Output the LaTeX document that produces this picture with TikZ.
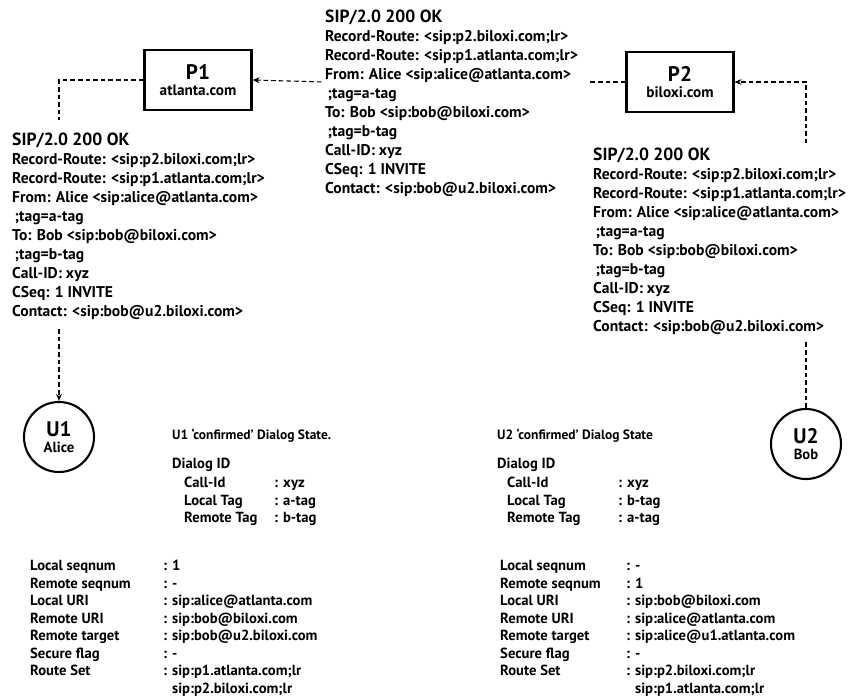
\documentclass[tikz,border=0pt]{standalone}
\usepackage{fontspec}
\setmainfont{PT Sans}
\usetikzlibrary{arrows.meta}

\tikzset{
  proxy/.style={draw, line width=2pt, minimum width=3.2cm, minimum height=1.8cm, align=center, inner sep=2pt, font=\bfseries},
  agent/.style={draw, circle, line width=1.8pt, minimum size=2.1cm, align=center, inner sep=0pt, font=\bfseries},
  msg/.style={anchor=north west, align=left, inner sep=0pt, font=\bfseries\fontsize{13.3}{16.2}\selectfont},
  tbl/.style={anchor=north west, align=left, inner sep=0pt, font=\bfseries\fontsize{12.5}{15}\selectfont},
  link/.style={line width=0.9pt, dash pattern=on 4pt off 2.5pt},
  tip/.style={-{Stealth[length=6pt,width=5pt]}}
}

\newcommand{\okmsg}{\strut{\fontsize{15}{16}\selectfont SIP/2.0 200 OK}\\
Record-Route: <sip:p2.biloxi.com;lr>\\
Record-Route: <sip:p1.atlanta.com;lr>\\
From: Alice <sip:alice@atlanta.com>\\
\hspace{2pt};tag=a-tag\\
To: Bob <sip:bob@biloxi.com>\\
\hspace{2pt};tag=b-tag\\
Call-ID: xyz\\
CSeq: 1 INVITE\\
Contact: <sip:bob@u2.biloxi.com>}

\begin{document}
\begin{tikzpicture}[x=0.03cm, y=-0.03cm]
    \useasboundingbox (0,0) rectangle (861,700);

    % Proxies
    \node[proxy] (p1) at (198,80) {{\fontsize{18}{20}\selectfont P1}\\[1pt]{\fontsize{13}{15}\selectfont atlanta.com}};
    \node[proxy] (p2) at (680,82) {{\fontsize{18}{20}\selectfont P2}\\[1pt]{\fontsize{13}{15}\selectfont biloxi.com}};

    % User agents
    \node[agent] (u1) at (59,437) {{\fontsize{18}{19}\selectfont U1}\\[1pt]{\fontsize{12.5}{14}\selectfont Alice}};
    \node[agent] (u2) at (806,444) {{\fontsize{18}{19}\selectfont U2}\\[1pt]{\fontsize{12.5}{14}\selectfont Bob}};

    % Messages
    \node[msg] (ok_p2) at (325,9) {\okmsg};
    \node[msg] (ok_p1) at (12,132) {\okmsg};
    \node[msg] (ok_u2) at (593,147) {\okmsg};

    % Edges
    \draw[link] (u2.north) -- (u2.north |- ok_u2.south) [shorten >=6pt];
    \draw[link, tip, shorten <=3pt] (ok_u2.north -| u2.north) |- (p2.east);
    \draw[link, shorten >=10pt] (p2.west) -- (p2.west -| ok_p2.east);
    \draw[link, tip, shorten <=3pt] (p2.west -| ok_p2.west) -- (p1.east);
    \draw[link, shorten >=10pt] (p1.west) -| (ok_p1.north -| u1.north);
    \draw[link, tip, shorten <=8pt] (ok_p1.south -| u1.north) -- (u1.north);

    % U1 dialog state
    \node[tbl, font=\bfseries\fontsize{11.5}{15}\selectfont] (u1_title) at (172,427) {\strut U1 `confirmed' Dialog State.};
    \node[tbl] (u1_dlg) at (172,456) {\strut Dialog ID};
    \node[tbl] (u1_idkeys) at (184,475) {\strut Call-Id\\Local Tag\\Remote Tag};
    \node[tbl] (u1_idvals) at (274,475) {\strut : xyz\\: a-tag\\: b-tag};
    \node[tbl] (u1_keys) at (30,558) {\strut Local seqnum\\Remote seqnum\\Local URI\\Remote URI\\Remote target\\Secure flag\\Route Set};
    \node[tbl] (u1_vals) at (163,558) {\strut : 1\\: -\\: sip:alice@atlanta.com\\: sip:bob@biloxi.com\\: sip:bob@u2.biloxi.com\\: -\\: sip:p1.atlanta.com;lr\\\phantom{: }sip:p2.biloxi.com;lr};

    % U2 dialog state
    \node[tbl, font=\bfseries\fontsize{11.5}{15}\selectfont] (u2_title) at (497,427) {\strut U2 `confirmed' Dialog State};
    \node[tbl] (u2_dlg) at (497,456) {\strut Dialog ID};
    \node[tbl] (u2_idkeys) at (507,475) {\strut Call-Id\\Local Tag\\Remote Tag};
    \node[tbl] (u2_idvals) at (618,475) {\strut : xyz\\: b-tag\\: a-tag};
    \node[tbl] (u2_keys) at (500,558) {\strut Local seqnum\\Remote seqnum\\Local URI\\Remote URI\\Remote target\\Secure flag\\Route Set};
    \node[tbl] (u2_vals) at (626,558) {\strut : -\\: 1\\: sip:bob@biloxi.com\\: sip:alice@atlanta.com\\: sip:alice@u1.atlanta.com\\: -\\: sip:p2.biloxi.com;lr\\\phantom{: }sip:p1.atlanta.com;lr};
\end{tikzpicture}
\end{document}
